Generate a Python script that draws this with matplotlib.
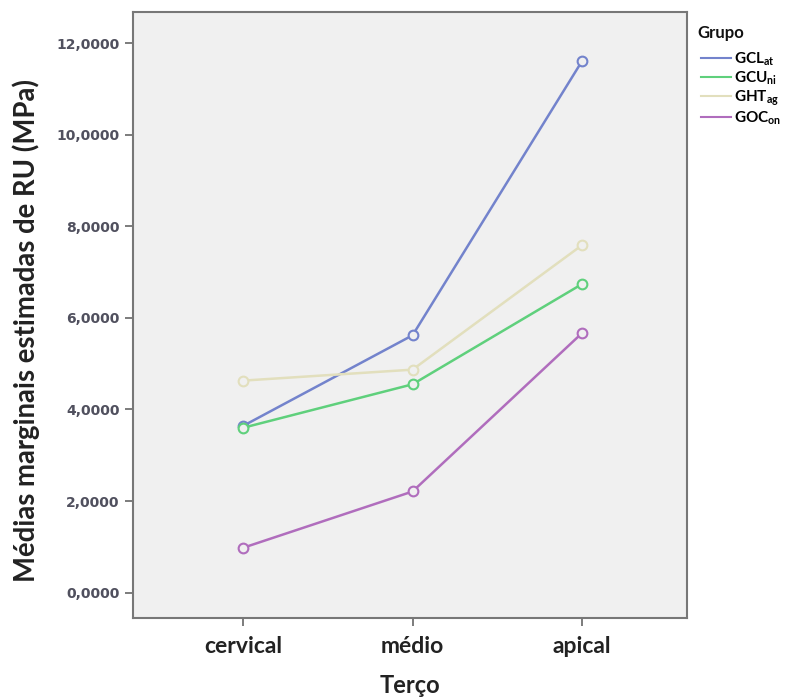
import matplotlib.pyplot as plt
import numpy as np

plt.rcParams['font.family'] = ['Lato', 'DejaVu Sans']
plt.rcParams['mathtext.fontset'] = 'custom'
plt.rcParams['mathtext.rm'] = 'Lato:bold'
plt.rcParams['mathtext.bf'] = 'Lato:bold'

tercos = ["cervical", "médio", "apical"]
grupos = ["GCL$_{\\mathrm{at}}$", "GCU$_{\\mathrm{ni}}$", "GHT$_{\\mathrm{ag}}$", "GOC$_{\\mathrm{on}}$"]
gclat = [3.64, 5.62, 11.61]
gcuni = [3.60, 4.55, 6.74]
ghtag = [4.63, 4.87, 7.59]
gocon = [0.98, 2.21, 5.67]
valores = [gclat, gcuni, ghtag, gocon]
cores = ["#7383cc", "#5fd07c", "#e2dfbd", "#b06dbd"]
yticks = [0, 2, 4, 6, 8, 10, 12]

fig = plt.figure(figsize=(7.9, 6.99), dpi=100)
ax = fig.add_axes([0.168, 0.116, 0.702, 0.867])
bg = "#f0f0f0"
ax.set_facecolor(bg)

x = np.arange(len(tercos))
for nome, v, c in zip(grupos, valores, cores):
    ax.plot(x, v, color=c, lw=1.8, marker="o", ms=7, mfc=bg, mec=c, mew=1.5, label=nome)

ax.set_xlim(-0.65, 2.62)
ax.set_ylim(-0.55, 12.68)
ax.set_xticks(x)
ax.set_xticklabels(tercos, fontsize=16.5, color="#222222", fontweight="bold")
ax.set_yticks(yticks)
ax.set_yticklabels([f"{t:.4f}".replace(".", ",") for t in yticks])
for lbl in ax.get_yticklabels():
    lbl.set_fontfamily("DejaVu Sans")
    lbl.set_fontsize(10)
    lbl.set_fontweight("bold")
    lbl.set_color("#50505e")
ax.tick_params(axis="both", direction="out", length=6, color="#666666", width=1.2)
ax.tick_params(axis="x", pad=7)

for s in ax.spines.values():
    s.set_color("#777777")
    s.set_linewidth(1.5)

ax.set_xlabel("Terço", fontsize=17, color="#222222", fontweight="bold", labelpad=12)
ax.set_ylabel("Médias marginais estimadas de RU (MPa)", fontsize=19.8, color="#222222",
              fontweight="bold")
ax.yaxis.set_label_coords(-0.168, 0.474)

# legenda: título separado, entradas logo abaixo
fig.text(697 / 790, 1 - 33 / 699, "Grupo", fontsize=12, fontweight="bold",
         color="#111111", va="center", ha="left")
leg = ax.legend(loc="upper left", bbox_to_anchor=(0.887, 1 - 50 / 699), bbox_transform=fig.transFigure,
                frameon=False, handlelength=2.0, handletextpad=0.2,
                labelspacing=0.1, borderaxespad=0, borderpad=0,
                prop={"weight": "bold", "size": 11})
for h in leg.legend_handles:
    h.set_marker("")
    h.set_linewidth(1.5)

fig.savefig("out.png", dpi=100)
